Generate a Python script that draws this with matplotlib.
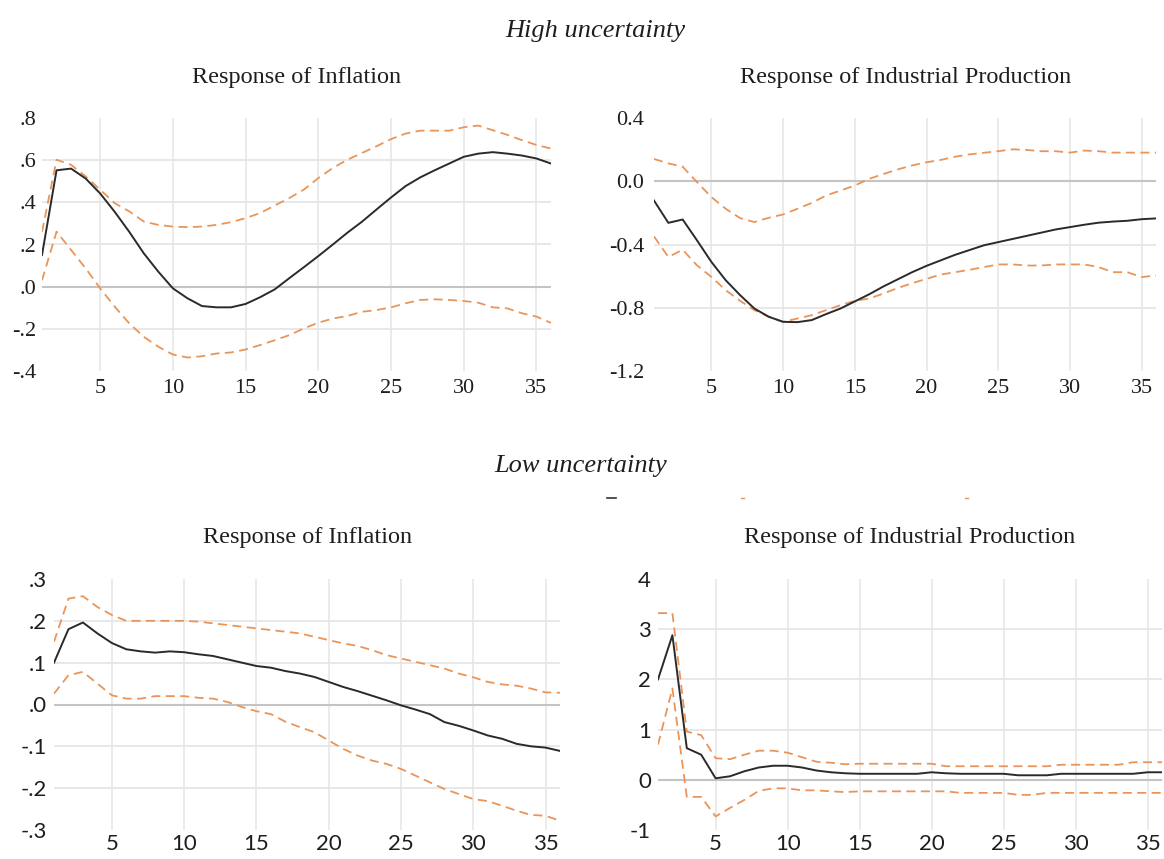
import numpy as np
import matplotlib
matplotlib.use("Agg")
import matplotlib.pyplot as plt
from matplotlib.lines import Line2D

# Horizon (periods after the shock)
horizon = list(range(1, 37))

# ---- High uncertainty regime ----
hi_infl_irf = [0.150, 0.552, 0.560, 0.513, 0.442, 0.355, 0.260, 0.158, 0.071, -0.008,
               -0.055, -0.092, -0.098, -0.098, -0.082, -0.050, -0.013, 0.040, 0.092, 0.145,
               0.200, 0.256, 0.308, 0.366, 0.423, 0.477, 0.518, 0.552, 0.584, 0.616,
               0.631, 0.638, 0.631, 0.622, 0.608, 0.584]
hi_infl_up = [0.260, 0.602, 0.578, 0.523, 0.460, 0.396, 0.357, 0.309, 0.293, 0.285,
              0.282, 0.285, 0.293, 0.306, 0.325, 0.349, 0.385, 0.420, 0.460, 0.515,
              0.563, 0.602, 0.634, 0.666, 0.700, 0.726, 0.740, 0.740, 0.740, 0.756,
              0.764, 0.742, 0.720, 0.695, 0.672, 0.655]
hi_infl_lo = [0.030, 0.261, 0.174, 0.087, -0.008, -0.095, -0.174, -0.238, -0.285, -0.322,
              -0.336, -0.330, -0.317, -0.312, -0.298, -0.277, -0.254, -0.230, -0.198, -0.171,
              -0.151, -0.139, -0.119, -0.111, -0.098, -0.079, -0.063, -0.060, -0.063, -0.068,
              -0.076, -0.098, -0.103, -0.126, -0.142, -0.172]

hi_ip_irf = [-0.122, -0.263, -0.242, -0.374, -0.510, -0.626, -0.720, -0.805, -0.857, -0.889,
             -0.891, -0.878, -0.840, -0.805, -0.760, -0.715, -0.665, -0.620, -0.575, -0.535,
             -0.500, -0.465, -0.435, -0.405, -0.385, -0.365, -0.345, -0.325, -0.305, -0.290,
             -0.275, -0.262, -0.255, -0.250, -0.240, -0.235]
hi_ip_up = [0.141, 0.113, 0.092, -0.006, -0.100, -0.174, -0.233, -0.258, -0.231, -0.210,
            -0.174, -0.137, -0.090, -0.059, -0.027, 0.015, 0.046, 0.075, 0.100, 0.120,
            0.135, 0.155, 0.170, 0.180, 0.190, 0.202, 0.198, 0.190, 0.190, 0.181,
            0.194, 0.190, 0.181, 0.181, 0.181, 0.181]
hi_ip_lo = [-0.349, -0.479, -0.433, -0.532, -0.605, -0.689, -0.756, -0.815, -0.857, -0.889,
            -0.868, -0.847, -0.815, -0.784, -0.756, -0.742, -0.710, -0.675, -0.645, -0.617,
            -0.590, -0.575, -0.560, -0.543, -0.526, -0.526, -0.533, -0.533, -0.526, -0.526,
            -0.526, -0.543, -0.575, -0.575, -0.606, -0.596]

# ---- Low uncertainty regime ----
lo_infl_irf = [0.100, 0.180, 0.196, 0.170, 0.147, 0.132, 0.127, 0.124, 0.127, 0.125,
               0.120, 0.116, 0.108, 0.100, 0.092, 0.088, 0.080, 0.074, 0.066, 0.054,
               0.042, 0.032, 0.021, 0.010, -0.002, -0.012, -0.023, -0.042, -0.051, -0.062,
               -0.074, -0.082, -0.094, -0.100, -0.103, -0.111]
lo_infl_up = [0.150, 0.253, 0.259, 0.233, 0.214, 0.200, 0.200, 0.200, 0.200, 0.200,
              0.198, 0.194, 0.190, 0.186, 0.182, 0.178, 0.174, 0.170, 0.162, 0.154,
              0.146, 0.140, 0.130, 0.118, 0.110, 0.102, 0.094, 0.086, 0.074, 0.065,
              0.054, 0.048, 0.045, 0.038, 0.029, 0.028]
lo_infl_lo = [0.026, 0.070, 0.078, 0.050, 0.022, 0.014, 0.014, 0.020, 0.020, 0.020,
              0.016, 0.014, 0.006, -0.006, -0.016, -0.023, -0.041, -0.054, -0.066, -0.086,
              -0.106, -0.122, -0.134, -0.142, -0.154, -0.170, -0.186, -0.202, -0.214, -0.226,
              -0.231, -0.242, -0.254, -0.264, -0.266, -0.278]

lo_ip_irf = [2.00, 2.88, 0.63, 0.50, 0.03, 0.07, 0.17, 0.245, 0.28, 0.28,
             0.245, 0.185, 0.15, 0.13, 0.12, 0.12, 0.12, 0.12, 0.12, 0.15,
             0.13, 0.12, 0.12, 0.12, 0.12, 0.09, 0.09, 0.09, 0.12, 0.12,
             0.12, 0.12, 0.12, 0.12, 0.15, 0.15]
lo_ip_up = [3.32, 3.32, 0.96, 0.89, 0.43, 0.41, 0.50, 0.58, 0.58, 0.54,
            0.45, 0.36, 0.34, 0.31, 0.32, 0.32, 0.32, 0.32, 0.32, 0.32,
            0.27, 0.27, 0.27, 0.27, 0.27, 0.27, 0.27, 0.27, 0.30, 0.30,
            0.30, 0.30, 0.30, 0.35, 0.35, 0.35]
lo_ip_lo = [0.70, 1.82, -0.34, -0.34, -0.73, -0.56, -0.40, -0.22, -0.17, -0.17,
            -0.21, -0.21, -0.23, -0.245, -0.23, -0.23, -0.23, -0.23, -0.23, -0.23,
            -0.23, -0.26, -0.26, -0.26, -0.26, -0.30, -0.30, -0.26, -0.26, -0.26,
            -0.26, -0.26, -0.26, -0.26, -0.26, -0.26]

# Axis ticks and labels
x_ticks = [5, 10, 15, 20, 25, 30, 35]
hi_infl_yticks = [0.8, 0.6, 0.4, 0.2, 0.0, -0.2, -0.4]
hi_infl_ylabels = [".8", ".6", ".4", ".2", ".0", "-.2", "-.4"]
hi_ip_yticks = [0.4, 0.0, -0.4, -0.8, -1.2]
hi_ip_ylabels = ["0.4", "0.0", "-0.4", "-0.8", "-1.2"]
lo_infl_yticks = [0.3, 0.2, 0.1, 0.0, -0.1, -0.2, -0.3]
lo_infl_ylabels = [".3", ".2", ".1", ".0", "-.1", "-.2", "-.3"]
lo_ip_yticks = [4, 3, 2, 1, 0, -1]
lo_ip_ylabels = ["4", "3", "2", "1", "0", "-1"]

panel_titles = ["Response of Inflation", "Response of Industrial Production"]
regime_titles = ["High uncertainty", "Low uncertainty"]

# Styling
IRF_COLOR = "#2a2a2a"
BAND_COLOR = "#E9955A"
GRID_COLOR = "#e6e6e6"
ZERO_COLOR = "#c4c4c4"
TEXT_COLOR = "#1e1e1e"
SERIF = ["Liberation Serif", "DejaVu Serif"]
SANS = ["Lato", "DejaVu Sans"]

W, H = 1164, 859
fig = plt.figure(figsize=(W / 100, H / 100), dpi=100)
fig.patch.set_facecolor("white")


def px_rect(x0, y0, x1, y1):
    return [x0 / W, 1 - y1 / H, (x1 - x0) / W, (y1 - y0) / H]


def draw_panel(rect, irf, up, lo, yticks, ylabels, tick_font, tick_size, ypad, xpad):
    ax = fig.add_axes(rect)
    ax.set_xlim(1, 36)
    ax.set_ylim(min(yticks), max(yticks))
    for s in ax.spines.values():
        s.set_visible(False)
    ax.set_xticks(x_ticks)
    ax.set_xticklabels([str(t) for t in x_ticks])
    ax.set_yticks(yticks)
    ax.set_yticklabels(ylabels)
    ax.tick_params(length=0, colors=TEXT_COLOR)
    ax.tick_params(axis="y", pad=ypad)
    ax.tick_params(axis="x", pad=xpad)
    for lab in ax.get_xticklabels() + ax.get_yticklabels():
        lab.set_fontfamily(tick_font)
        lab.set_fontsize(tick_size)
        lab.set_color(TEXT_COLOR)
    # grid
    for t in x_ticks:
        ax.axvline(t, color=GRID_COLOR, lw=1.1, zorder=0)
    for v in yticks:
        if v in (min(yticks), max(yticks)):
            continue
        if v == 0:
            ax.axhline(v, color=ZERO_COLOR, lw=1.5, zorder=1)
        else:
            ax.axhline(v, color=GRID_COLOR, lw=1.3, zorder=0)
    ax.plot(horizon, up, color=BAND_COLOR, lw=1.3, ls=(0, (5, 3)), zorder=3)
    ax.plot(horizon, lo, color=BAND_COLOR, lw=1.3, ls=(0, (5, 3)), zorder=3)
    ax.plot(horizon, irf, color=IRF_COLOR, lw=1.4, zorder=4)
    return ax


draw_panel(px_rect(42, 118, 551, 371), hi_infl_irf, hi_infl_up, hi_infl_lo,
           hi_infl_yticks, hi_infl_ylabels, SERIF, 16, 4, 6)
draw_panel(px_rect(654, 118, 1156, 371), hi_ip_irf, hi_ip_up, hi_ip_lo,
           hi_ip_yticks, hi_ip_ylabels, SERIF, 16, 7, 6)
draw_panel(px_rect(54, 579, 560, 830), lo_infl_irf, lo_infl_up, lo_infl_lo,
           lo_infl_yticks, lo_infl_ylabels, SANS, 16, 5, 3)
draw_panel(px_rect(658, 579, 1162, 830), lo_ip_irf, lo_ip_up, lo_ip_lo,
           lo_ip_yticks, lo_ip_ylabels, SANS, 16, 5, 3)

# Regime headings and panel titles
fig.text(595 / W, 1 - 31 / H, regime_titles[0], ha="center", va="center",
         family=SERIF, style="italic", fontsize=19, color=TEXT_COLOR)
fig.text(581 / W, 1 - 466 / H, regime_titles[1], ha="center", va="center",
         family=SERIF, style="italic", fontsize=19, color=TEXT_COLOR)
for cx, cy, t in [(297, 78, panel_titles[0]), (906, 78, panel_titles[1]),
                  (308, 538, panel_titles[0]), (910, 538, panel_titles[1])]:
    fig.text(cx / W, 1 - cy / H, t, ha="center", va="center",
             family=SERIF, fontsize=17.5, color=TEXT_COLOR)

# small leftover strokes between the two blocks
fig.add_artist(Line2D([607 / W, 616 / W], [1 - 498 / H] * 2, color="#333333", lw=1.2))
fig.add_artist(Line2D([741 / W, 744 / W], [1 - 498 / H] * 2, color="#E9965B", lw=1.0))
fig.add_artist(Line2D([965 / W, 968 / W], [1 - 498 / H] * 2, color="#E9965B", lw=1.0))

fig.savefig("out.png", dpi=100, facecolor="white")
